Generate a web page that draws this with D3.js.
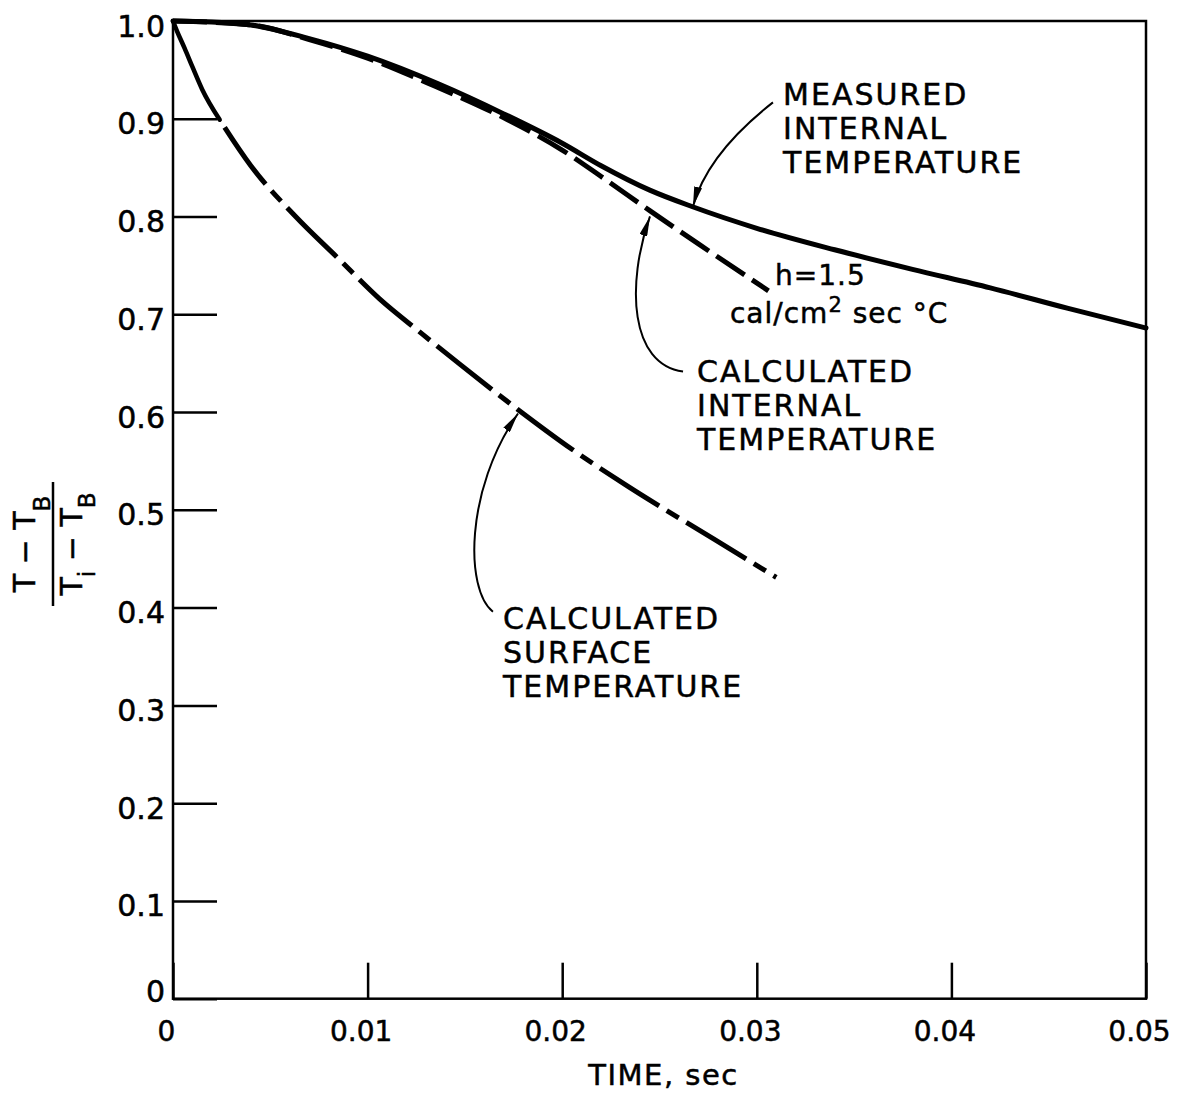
<!DOCTYPE html>
<html lang="en">
<head>
<meta charset="UTF-8">
<title>Temperature ratio vs time</title>
<style>
    body { margin: 0; background: #fff; }
    text { font-family: "DejaVu Sans", sans-serif; fill: #000; stroke: #000; stroke-width: 0.5px; }
    .tick text { font-size: 30px; }
    .xaxis .tick text { font-size: 28px; }
    .tick line { stroke: #000; stroke-width: 2.5; }
    .caps { font-size: 30px; letter-spacing: 2px; }
</style>
</head>
<body>
<svg id="chart" width="1185" height="1093"></svg>
<script src="https://cdn.jsdelivr.net/npm/d3@7"></script>
<script>
// tick values and labels
var xTicks = [0, 0.01, 0.02, 0.03, 0.04, 0.05];
var xTickLabels = ["0", "0.01", "0.02", "0.03", "0.04", "0.05"];
var yTicks = [0, 0.1, 0.2, 0.3, 0.4, 0.5, 0.6, 0.7, 0.8, 0.9, 1.0];
var yTickLabels = ["0", "0.1", "0.2", "0.3", "0.4", "0.5", "0.6", "0.7", "0.8", "0.9", "1.0"];

// measured internal temperature (solid)
var measuredTime  = [0, 0.002, 0.004, 0.007, 0.010, 0.0136, 0.017, 0.020, 0.022, 0.0245, 0.0267, 0.030, 0.034, 0.038, 0.042, 0.046, 0.05];
var measuredValue = [1.0, 0.999, 0.996, 0.982, 0.964, 0.936, 0.905, 0.875, 0.852, 0.827, 0.810, 0.788, 0.766, 0.746, 0.727, 0.706, 0.686];

// calculated internal temperature, h = 1.5 (dashed)
var calcTime  = [0, 0.004, 0.007, 0.010, 0.0135, 0.017, 0.020, 0.022, 0.0245, 0.027, 0.0306];
var calcValue = [1.0, 0.996, 0.981, 0.962, 0.933, 0.901, 0.868, 0.841, 0.806, 0.772, 0.724];

// calculated surface temperature (dash-dot)
var surfTime  = [0, 0.0002, 0.0006, 0.001, 0.0015, 0.0024, 0.004, 0.0063, 0.0085, 0.0106, 0.0128, 0.0148, 0.0177, 0.0205, 0.0233, 0.0278, 0.031];
var surfValue = [1.0, 0.99, 0.972, 0.953, 0.93, 0.899, 0.852, 0.800, 0.757, 0.716, 0.680, 0.648, 0.603, 0.562, 0.525, 0.470, 0.431];
var surfSolidEnd = 5; // first stretch drawn solid

var svg = d3.select("#chart");
var plotLeft = 173, plotRight = 1146, plotTop = 21, plotBottom = 998.7;

var x = d3.scaleLinear().domain([0, 0.05]).range([plotLeft, plotRight]);
var y = d3.scaleLinear().domain([0, 1]).range([plotBottom, plotTop]);

// frame
svg.append("rect")
    .attr("x", plotLeft).attr("y", plotTop)
    .attr("width", plotRight - plotLeft).attr("height", plotBottom - plotTop)
    .attr("fill", "none").attr("stroke", "#000").attr("stroke-width", 2.5);

// y axis, ticks pointing inward
var yAxis = svg.append("g")
    .attr("transform", "translate(" + plotLeft + ",0)")
    .call(d3.axisLeft(y).tickValues(yTicks)
        .tickFormat(function (d, i) { return yTickLabels[i]; })
        .tickSizeInner(-44).tickSizeOuter(0).tickPadding(8));
yAxis.select(".domain").remove();
yAxis.selectAll("text").attr("dy", function (d) { return d === 0 ? "3" : "15"; });

// x axis, ticks pointing up
var xAxis = svg.append("g")
    .attr("class", "xaxis")
    .attr("transform", "translate(0," + plotBottom + ")")
    .call(d3.axisBottom(x).tickValues(xTicks)
        .tickFormat(function (d, i) { return xTickLabels[i]; })
        .tickSizeInner(-36).tickSizeOuter(0));
xAxis.select(".domain").remove();
xAxis.selectAll("text").attr("y", 42).attr("dy", 0).attr("dx", -7);

// axis titles
svg.append("text")
    .attr("x", (plotLeft + plotRight) / 2 + 4).attr("y", 1085)
    .attr("text-anchor", "middle")
    .style("font-size", "29px").style("letter-spacing", "1.5px")
    .text("TIME, sec");

var yl = svg.append("g").attr("transform", "translate(0,544) rotate(-90)");
var num = yl.append("text").attr("x", 0).attr("y", 35).attr("text-anchor", "middle").style("font-size", "30px");
num.append("tspan").text("T \u2212 T");
num.append("tspan").attr("dy", 15).style("font-size", "23px").text("B");
yl.append("line").attr("x1", -62).attr("x2", 62).attr("y1", 53).attr("y2", 53)
    .attr("stroke", "#000").attr("stroke-width", 2.5);
var den = yl.append("text").attr("x", 0).attr("y", 82).attr("text-anchor", "middle").style("font-size", "30px");
den.append("tspan").text("T");
den.append("tspan").attr("dy", 13).style("font-size", "23px").text("i");
den.append("tspan").attr("dy", -13).text(" \u2212 T");
den.append("tspan").attr("dy", 13).style("font-size", "23px").text("B");

// curves
var line = d3.line()
    .x(function (d) { return x(d[0]); })
    .y(function (d) { return y(d[1]); })
    .curve(d3.curveMonotoneX);

var measured = d3.zip(measuredTime, measuredValue);
var calc = d3.zip(calcTime, calcValue);
var surf = d3.zip(surfTime, surfValue);

svg.append("path").attr("d", line(measured))
    .attr("fill", "none").attr("stroke", "#000").attr("stroke-width", 5).attr("stroke-linecap", "round");

svg.append("path").attr("d", line(calc))
    .attr("fill", "none").attr("stroke", "#000").attr("stroke-width", 5)
    .attr("stroke-dasharray", "34,9");

svg.append("path").attr("d", line(surf.slice(0, surfSolidEnd + 1)))
    .attr("fill", "none").attr("stroke", "#000").attr("stroke-width", 4.5).attr("stroke-linecap", "round");
svg.append("path").attr("d", line(surf.slice(surfSolidEnd)))
    .attr("fill", "none").attr("stroke", "#000").attr("stroke-width", 5)
    .attr("stroke-dasharray", "70,9,14,9").attr("stroke-dashoffset", 93);

// arrowhead
svg.append("defs").append("marker")
    .attr("id", "arrow").attr("viewBox", "0 0 20 8")
    .attr("refX", 20).attr("refY", 4)
    .attr("markerWidth", 20).attr("markerHeight", 8)
    .attr("markerUnits", "userSpaceOnUse").attr("orient", "auto")
    .append("path").attr("d", "M0,0L20,4L0,8Z").attr("fill", "#000");

// annotations (positions in data units)
var labels = [
    { t: 0.03135, v: 0.9137, lines: ["MEASURED", "INTERNAL", "TEMPERATURE"] },
    { t: 0.02693, v: 0.6312, lines: ["CALCULATED", "INTERNAL", "TEMPERATURE"] },
    { t: 0.01696, v: 0.3784, lines: ["CALCULATED", "SURFACE", "TEMPERATURE"] }
];
labels.forEach(function (l) {
    var t = svg.append("text").attr("class", "caps");
    l.lines.forEach(function (s, i) {
        t.append("tspan").attr("x", x(l.t)).attr("y", y(l.v) + i * 34).text(s);
    });
});

var arrows = [
    [[0.03083, 0.9168], [0.02939, 0.8943], [0.02734, 0.8564], [0.02672, 0.8102]],
    [[0.02621, 0.6415], [0.02348, 0.6487], [0.02328, 0.7306], [0.02451, 0.8001]],
    [[0.01644, 0.3958], [0.0150, 0.4184], [0.0150, 0.5207], [0.01773, 0.5985]]
];
arrows.forEach(function (a) {
    var p = d3.path();
    p.moveTo(x(a[0][0]), y(a[0][1]));
    p.bezierCurveTo(x(a[1][0]), y(a[1][1]), x(a[2][0]), y(a[2][1]), x(a[3][0]), y(a[3][1]));
    svg.append("path").attr("d", p.toString())
        .attr("fill", "none").attr("stroke", "#000").attr("stroke-width", 2)
        .attr("marker-end", "url(#arrow)");
});

// h label
var h = svg.append("text").style("font-size", "28px").style("letter-spacing", "1px");
h.append("tspan").attr("x", x(0.03094)).attr("y", y(0.7254) - 4).text("h=1.5");
var c = svg.append("text").style("font-size", "28px").style("letter-spacing", "1px")
    .attr("x", x(0.02862)).attr("y", y(0.6926) + 1);
c.append("tspan").text("cal/cm");
c.append("tspan").attr("dy", -11).style("font-size", "21px").text("2");
c.append("tspan").attr("dy", 11).text(" sec \u00B0C");
</script>
</body>
</html>
